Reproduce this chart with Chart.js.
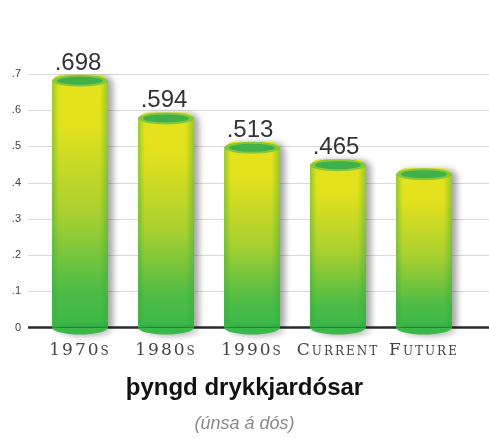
<!DOCTYPE html>
<html>
<head>
<meta charset="utf-8">
<script src="https://cdn.jsdelivr.net/npm/chart.js@4.4.1/dist/chart.umd.min.js"></script>
<style>
  html, body { margin: 0; padding: 0; background: #fff; }
  #wrap { width: 489px; height: 439px; }
</style>
</head>
<body>
<div id="wrap"><canvas id="chart"></canvas></div>
<script>
// --- data ---
const categories = ['1970s', '1980s', '1990s', 'Current', 'Future'];
const canWeights = [0.698, 0.594, 0.513, 0.465, 0.44];
const valueLabels = ['.698', '.594', '.513', '.465', ''];
const yTicks = [0, 0.1, 0.2, 0.3, 0.4, 0.5, 0.6, 0.7];
const yTickLabels = ['0', '.1', '.2', '.3', '.4', '.5', '.6', '.7'];
const titleText = 'þyngd drykkjardósar';
const subtitleText = '(únsa á dós)';

// gradient fill for each bar, from its top down to the base
function barGradient(c) {
    const chart = c.chart;
    if (!chart.chartArea) return '#c8d82a';
    const y = chart.scales.y;
    const top = y.getPixelForValue(c.raw);
    const base = y.getPixelForValue(0);
    const g = chart.ctx.createLinearGradient(0, top, 0, base);
    g.addColorStop(0, '#e6e31b');
    g.addColorStop(0.2, '#e2e11d');
    g.addColorStop(0.55, '#a9d030');
    g.addColorStop(0.85, '#4fbc45');
    g.addColorStop(1, '#3bb84a');
    return g;
}

// grid + baseline behind the bars, shadow + cylinder ends around them
const cylinderPlugin = {
    id: 'cylinders',
    beforeDatasetsDraw(chart) {
        const {ctx, scales: {y}} = chart;
        ctx.save();
        ctx.strokeStyle = '#dadada';
        ctx.lineWidth = 1;
        yTicks.forEach(v => {
            if (v === 0) return;
            const py = Math.round(y.getPixelForValue(v)) + 0.5;
            ctx.beginPath();
            ctx.moveTo(28, py);
            ctx.lineTo(chart.width, py);
            ctx.stroke();
        });
        const by = y.getPixelForValue(0);
        ctx.strokeStyle = '#2b2b2b';
        ctx.lineWidth = 2.5;
        ctx.beginPath();
        ctx.moveTo(28, by);
        ctx.lineTo(chart.width, by);
        ctx.stroke();
        ctx.restore();
    },
    beforeDatasetDraw(chart) {
        const ctx = chart.ctx;
        ctx.save();
        ctx.shadowColor = 'rgba(0,0,0,0.35)';
        ctx.shadowOffsetX = 5;
        ctx.shadowOffsetY = 1;
        ctx.shadowBlur = 6;
    },
    afterDatasetDraw(chart, args) {
        const ctx = chart.ctx;
        args.meta.data.forEach(bar => {
            const w = bar.width;
            ctx.fillStyle = '#3bb84a';
            ctx.beginPath();
            ctx.ellipse(bar.x, bar.base, w / 2, 7, 0, 0, Math.PI);
            ctx.fill();
        });
        ctx.restore();

        args.meta.data.forEach(bar => {
            const w = bar.width;
            const left = bar.x - w / 2;
            // side shading for a rounded look
            const h = ctx.createLinearGradient(left, 0, left + w, 0);
            h.addColorStop(0, 'rgba(50,170,60,0.45)');
            h.addColorStop(0.12, 'rgba(50,170,60,0)');
            h.addColorStop(0.85, 'rgba(50,170,60,0)');
            h.addColorStop(1, 'rgba(50,170,60,0.45)');
            ctx.fillStyle = h;
            ctx.fillRect(left, bar.y + 6, w, bar.base - bar.y - 6);
            // top cap
            ctx.fillStyle = '#86c83c';
            ctx.beginPath();
            ctx.ellipse(bar.x, bar.y + 6, w / 2, 6, 0, 0, Math.PI * 2);
            ctx.fill();
            ctx.fillStyle = '#3fb04a';
            ctx.beginPath();
            ctx.ellipse(bar.x, bar.y + 6, w / 2 - 5, 4, 0, 0, Math.PI * 2);
            ctx.fill();
        });
    },
    afterDatasetsDraw(chart) {
        const ctx = chart.ctx;
        const meta = chart.getDatasetMeta(0);
        ctx.save();
        ctx.font = '24px "Liberation Sans", Arial, sans-serif';
        ctx.fillStyle = '#333';
        ctx.textAlign = 'center';
        ctx.textBaseline = 'alphabetic';
        meta.data.forEach((bar, i) => {
            if (valueLabels[i]) ctx.fillText(valueLabels[i], bar.x - 2, bar.y - 5);
        });
        ctx.restore();
        // x labels are drawn after this (ticks z: 1), spaced out like engraved caps
        ctx.letterSpacing = '2px';
    },
    afterDraw(chart) {
        chart.ctx.letterSpacing = '0px';
    }
};

new Chart(document.getElementById('chart'), {
    type: 'bar',
    data: {
        labels: categories,
        datasets: [{
            data: canWeights,
            backgroundColor: barGradient,
            borderWidth: 0,
            borderRadius: {topLeft: 9, topRight: 9, bottomLeft: 0, bottomRight: 0},
            borderSkipped: 'bottom',
            categoryPercentage: 0.65,
            barPercentage: 1
        }]
    },
    options: {
        responsive: true,
        maintainAspectRatio: false,
        animation: false,
        layout: { padding: { top: 74, right: 0, bottom: 2, left: 0 } },
        plugins: {
            legend: { display: false },
            tooltip: { enabled: false },
            title: {
                display: true,
                text: titleText,
                position: 'bottom',
                weight: 1000,
                color: '#111',
                font: { family: '"Liberation Sans", Arial, sans-serif', size: 24, weight: 'bold' },
                padding: { top: 9, bottom: 5 }
            },
            subtitle: {
                display: true,
                text: subtitleText,
                position: 'bottom',
                weight: 2000,
                color: '#8a8a8a',
                font: { family: '"Liberation Sans", Arial, sans-serif', size: 18, style: 'italic' },
                padding: { top: 6, bottom: 2 }
            }
        },
        scales: {
            x: {
                grid: { display: false, drawTicks: false },
                border: { display: false },
                afterFit: s => { s.height = 37; },
                ticks: {
                    z: 1,
                    color: '#444',
                    padding: 13,
                    maxRotation: 0,
                    font: { family: '"DejaVu Serif", "Liberation Serif", serif', size: 17, weight: 'small-caps' }
                }
            },
            y: {
                min: 0,
                max: 0.7,
                grid: { display: false, drawTicks: false },
                border: { display: false },
                afterBuildTicks: s => { s.ticks = yTicks.map(v => ({value: v})); },
                afterFit: s => { s.width = 37; },
                ticks: {
                    color: '#444',
                    padding: 16,
                    font: { family: '"Liberation Sans", Arial, sans-serif', size: 11 },
                    callback: (v, i) => yTickLabels[i]
                }
            },
            // empty right-hand gutter so the plot stops short of the edge
            gutter: {
                type: 'linear',
                position: 'right',
                grid: { display: false, drawTicks: false },
                border: { display: false },
                ticks: { display: false },
                afterFit: s => { s.width = 22; }
            }
        }
    },
    plugins: [cylinderPlugin]
});
</script>
</body>
</html>
